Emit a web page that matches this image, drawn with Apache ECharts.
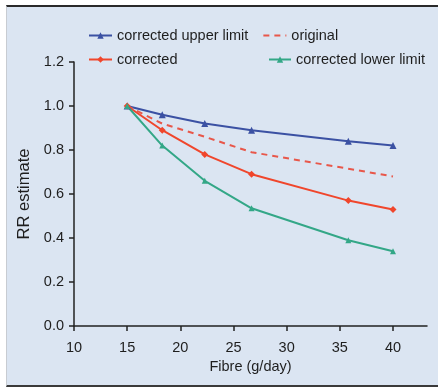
<!DOCTYPE html>
<html>
<head>
<meta charset="utf-8">
<script src="https://cdn.jsdelivr.net/npm/echarts@6/dist/echarts.min.js"></script>
<style>
  html, body { margin: 0; padding: 0; background: #fff; }
  #panel {
    position: absolute; left: 6px; top: 5px; width: 432px; height: 378px;
    background: #dbe5f2; border-top: 2px solid #2a2a2a; border-bottom: 2px solid #3a3a3a;
    border-left: 1px solid #c8ccd2;
  }
  #chart { position: absolute; left: 0; top: 0; width: 438px; height: 387px; }
</style>
</head>
<body>
<div id="panel"></div>
<div id="chart"></div>
<script>
  // fibre intake (g/day)
  var fibre = [15, 18.3, 22.3, 26.7, 35.8, 40]
  var upperLimit = [1.0, 0.96, 0.92, 0.89, 0.84, 0.82]
  var original = [1.0, 0.92, 0.86, 0.79, 0.715, 0.68]
  var corrected = [1.0, 0.89, 0.78, 0.69, 0.57, 0.53]
  var lowerLimit = [1.0, 0.82, 0.66, 0.535, 0.39, 0.34]
  var xTicks = [10, 15, 20, 25, 30, 35, 40]

  function pairs (ys) {
    return fibre.map(function (x, i) { return [x, ys[i]] })
  }

  var font = 'Liberation Sans, Arial, sans-serif'
  var chart = echarts.init(document.getElementById('chart'))
  var legendText = { color: '#1e1e1e', fontSize: 14.5, fontFamily: font }

  chart.setOption({
    backgroundColor: 'transparent',
    animation: false,
    grid: { left: 74, top: 62, right: 11, bottom: 61 },
    legend: [
      {
        data: ['corrected upper limit', { name: 'original', itemStyle: { opacity: 0 } }],
        left: 88, top: 28, padding: 0, itemWidth: 23, itemHeight: 8, itemGap: 14, textStyle: legendText
      },
      { data: ['corrected'], left: 88, top: 52, padding: 0, itemWidth: 23, itemHeight: 8, textStyle: legendText },
      { data: ['corrected lower limit'], left: 268, top: 52, padding: 0, itemWidth: 22, itemHeight: 8, textStyle: legendText }
    ],
    xAxis: {
      type: 'value',
      min: 10,
      max: 43.2,
      name: 'Fibre (g/day)',
      nameLocation: 'middle',
      nameGap: 33,
      nameTextStyle: { color: '#1e1e1e', fontSize: 14.5, fontFamily: font },
      splitLine: { show: false },
      axisLine: { lineStyle: { color: '#222', width: 1.5 } },
      axisTick: { customValues: xTicks, length: 5, lineStyle: { color: '#222', width: 1.5 } },
      axisLabel: { customValues: xTicks, color: '#1e1e1e', fontSize: 14.5, fontFamily: font, margin: 14 }
    },
    yAxis: {
      type: 'value',
      min: 0,
      max: 1.2,
      interval: 0.2,
      name: 'RR estimate',
      nameLocation: 'middle',
      nameGap: 31,
      nameTextStyle: { color: '#1e1e1e', fontSize: 16.5, fontFamily: font },
      splitLine: { show: false },
      axisLine: { show: true, lineStyle: { color: '#222', width: 1.5 } },
      axisTick: { show: true, length: 5, lineStyle: { color: '#222', width: 1.5 } },
      axisLabel: {
        color: '#1e1e1e', fontSize: 14.5, fontFamily: font, margin: 10,
        formatter: function (v) { return v.toFixed(1) }
      }
    },
    series: [
      {
        name: 'corrected upper limit',
        type: 'line',
        data: pairs(upperLimit),
        symbol: 'triangle',
        symbolSize: 7,
        itemStyle: { color: '#3b51a3' },
        lineStyle: { color: '#3b51a3', width: 2 }
      },
      {
        name: 'original',
        type: 'line',
        data: pairs(original),
        symbol: 'none',
        itemStyle: { color: '#e8574a' },
        lineStyle: { color: '#e8574a', width: 2, type: [6, 5] }
      },
      {
        name: 'corrected',
        type: 'line',
        data: pairs(corrected),
        symbol: 'diamond',
        symbolSize: 7,
        itemStyle: { color: '#f0462c' },
        lineStyle: { color: '#f0462c', width: 2 }
      },
      {
        name: 'corrected lower limit',
        type: 'line',
        data: pairs(lowerLimit),
        symbol: 'triangle',
        symbolSize: 6,
        itemStyle: { color: '#33a787' },
        lineStyle: { color: '#33a787', width: 2 }
      }
    ]
  })
</script>
</body>
</html>
